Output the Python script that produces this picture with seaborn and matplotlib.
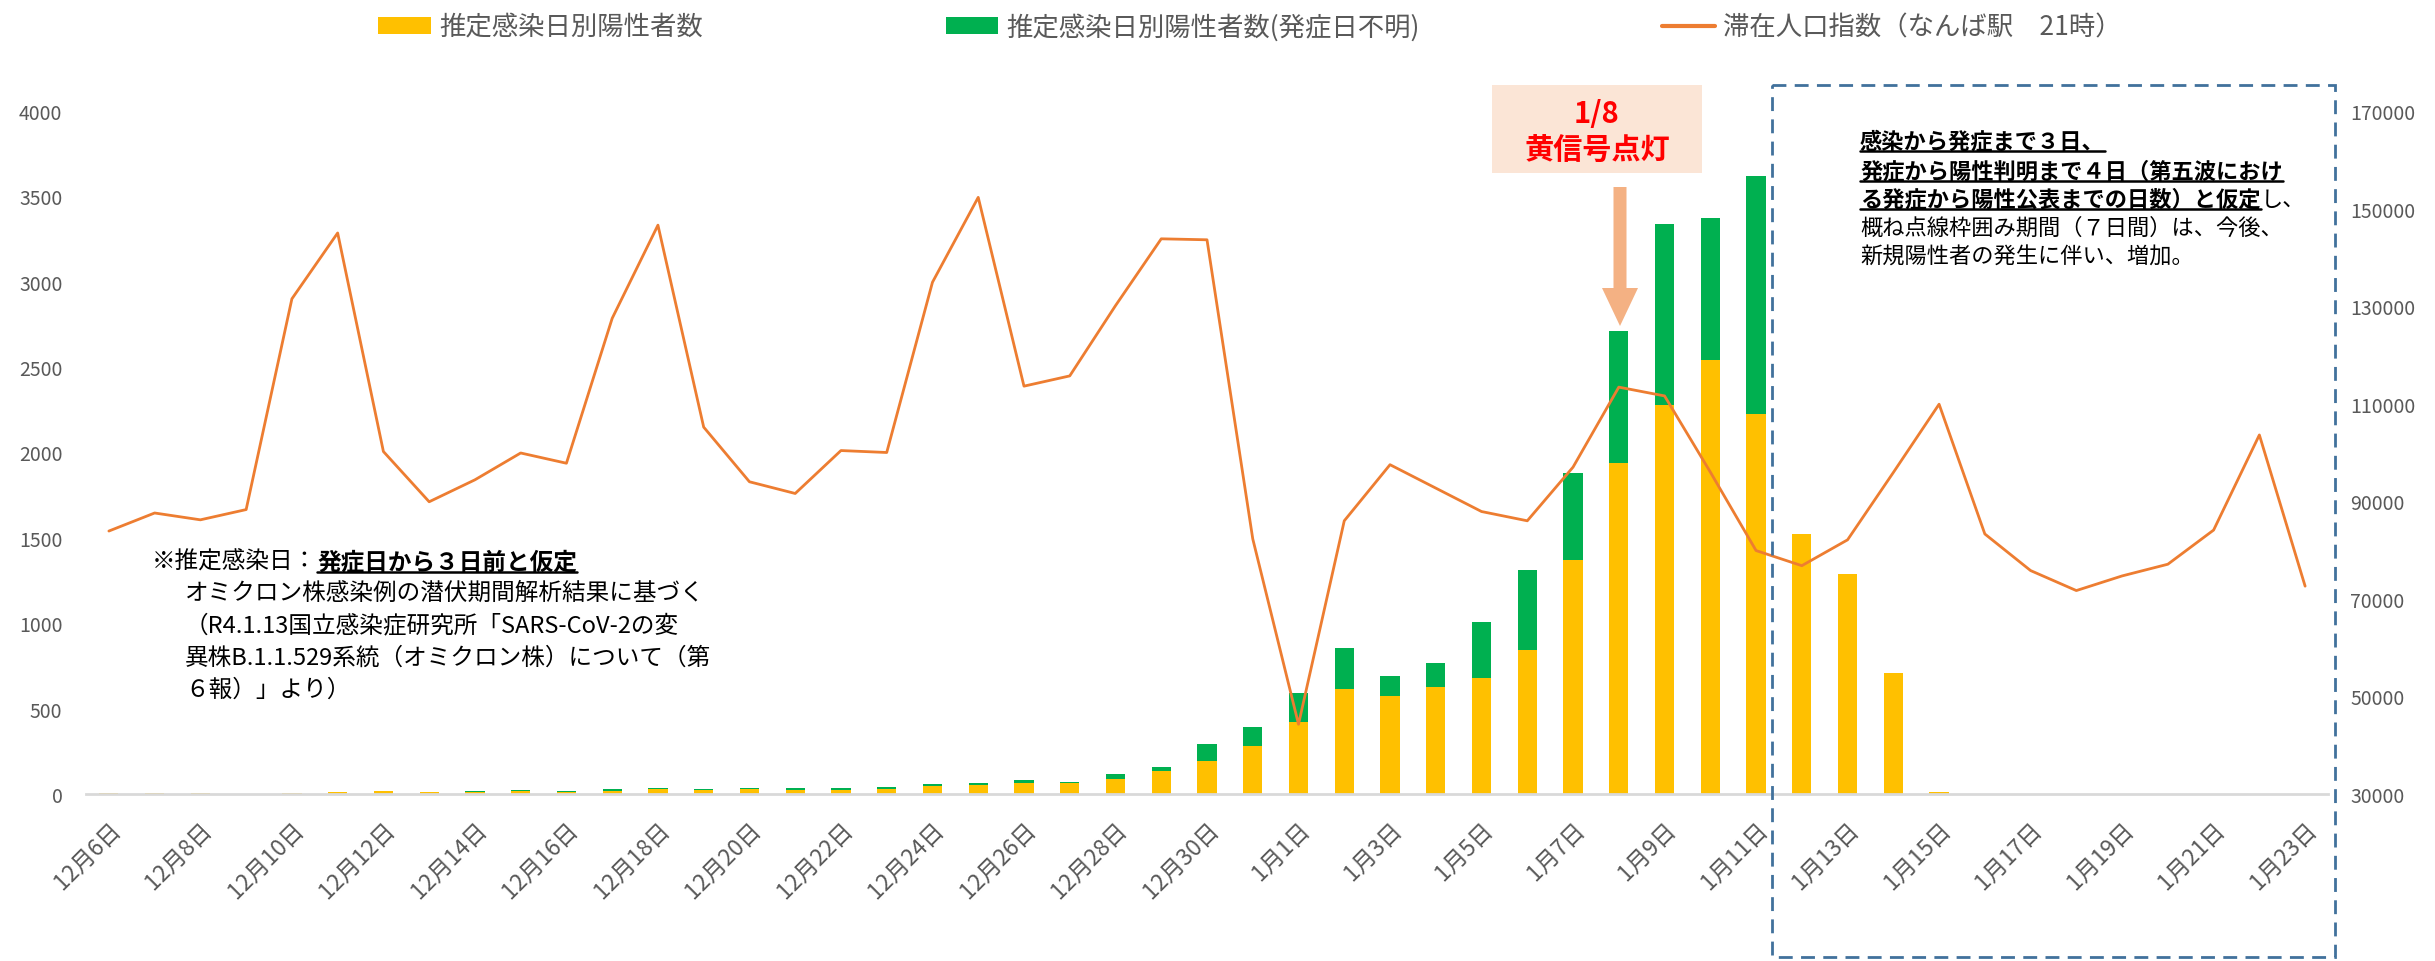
import numpy as np
import pandas as pd
import matplotlib
matplotlib.use("Agg")
import matplotlib.pyplot as plt
import seaborn as sns
from matplotlib.patches import Rectangle, FancyArrow, Patch
from matplotlib.lines import Line2D
from matplotlib.transforms import Affine2D, IdentityTransform

# データ
dates = [f"12月{d}日" for d in range(6, 32)] + [f"1月{d}日" for d in range(1, 24)]

# 推定感染日別陽性者数
known = [5, 3, 3, 0, 5, 10, 18, 12, 10, 17, 10, 18, 30, 22, 30, 22, 25, 30, 47, 55, 66, 62, 88, 137, 193, 279,
         424, 615, 576, 625, 678, 846, 1371, 1941, 2281, 2539, 2227, 1520, 1287, 709, 10,
         0, 0, 0, 0, 0, 0, 0, 0]
# 推定感染日別陽性者数(発症日不明)
unknown = [0, 0, 0, 0, 0, 0, 0, 0, 8, 6, 8, 11, 3, 7, 3, 13, 10, 13, 12, 11, 16, 6, 29, 23, 102, 115,
           166, 238, 113, 143, 330, 463, 510, 772, 1057, 834, 1392, 0, 0, 0, 0,
           0, 0, 0, 0, 0, 0, 0, 0]
# 滞在人口指数（なんば駅 21時）
population = [83900, 87600, 86200, 88300, 131500, 145000, 100200, 89900, 94400, 99900, 97800, 127500,
              146600, 105200, 94000, 91600, 100400, 100000, 134900, 152300, 113600, 115700, 130100,
              143800, 143600, 82300,
              44300, 86000, 97500, 92700, 87900, 86000, 97000, 113400, 111600, 96000, 79900, 76800,
              82100, 95900, 109900, 83300, 75800, 71700, 74700, 77100, 84100, 103600, 72600]

df = pd.DataFrame({"date": dates, "known": known, "unknown": unknown, "pop": population})
df["total"] = df["known"] + df["unknown"]
df["pos"] = np.arange(len(df))

YELLOW = "#FFC000"
GREEN = "#00B050"
ORANGE = "#ED7D31"
GRAY = "#595959"

sns.set_theme(style="white")
plt.rcParams["font.family"] = ["Noto Sans CJK JP", "DejaVu Sans"]

W, H, DPI = 2435, 962, 100
fig = plt.figure(figsize=(W / DPI, H / DPI), dpi=DPI)
# ピクセル座標 (左上原点)
PX = Affine2D().scale(1, -1).translate(0, H).scale(1 / DPI) + fig.dpi_scale_trans

ax = fig.add_axes([86 / W, 1 - 795 / H, (2328 - 86) / W, (795 - 112) / H])

sns.barplot(data=df, x="date", y="total", color=GREEN, width=0.42, linewidth=0, saturation=1, ax=ax)
sns.barplot(data=df, x="date", y="known", color=YELLOW, width=0.42, linewidth=0, saturation=1, ax=ax)

ax.set_ylim(0, 4000)
ax.set_yticks(range(0, 4001, 500))
ax.set_xlim(-0.5, len(df) - 0.5)
ax.set_xticks(range(0, len(df), 2))
ax.set_xticklabels(dates[::2], rotation=45, ha="right", va="top", rotation_mode="anchor")
ax.set_xlabel("")
ax.set_ylabel("")
ax.tick_params(axis="y", length=0, pad=17, labelsize=14, labelcolor=GRAY)
ax.tick_params(axis="x", length=0, pad=17, labelsize=16.5, labelcolor=GRAY)
for s in ["top", "left", "right"]:
    ax.spines[s].set_visible(False)
ax.spines["bottom"].set_color("#D9D9D9")
ax.spines["bottom"].set_linewidth(2)

ax2 = ax.twinx()
sns.lineplot(data=df, x="pos", y="pop", color=ORANGE, linewidth=2, ax=ax2)
ax2.set_ylim(30000, 170000)
ax2.set_yticks(range(30000, 170001, 20000))
ax2.set_xlim(-0.5, len(df) - 0.5)
ax2.set_ylabel("")
ax2.set_xlabel("")
ax2.tick_params(axis="y", length=0, pad=16, labelsize=14, labelcolor=GRAY)
for s in ax2.spines.values():
    s.set_visible(False)
ax2.grid(False)
ax.grid(False)

# 凡例
handles = [Patch(facecolor=YELLOW, edgecolor="none"),
           Patch(facecolor=GREEN, edgecolor="none"),
           Line2D([0], [0], color=ORANGE, lw=3)]
labels = ["推定感染日別陽性者数", "推定感染日別陽性者数(発症日不明)", "滞在人口指数（なんば駅　21時）"]
leg = fig.legend(handles, labels, loc="center", bbox_to_anchor=(1250 / W, 1 - 28 / H), ncol=3,
                 frameon=False, fontsize=19, columnspacing=9.2, handlelength=2.0,
                 handleheight=0.65, handletextpad=0.3)
for t in leg.get_texts():
    t.set_color(GRAY)

# 1/8 黄信号点灯
fig.add_artist(Rectangle((1492, 86), 210, 88, transform=PX, facecolor="#FBE5D6", edgecolor="none"))
fig.text(1597, 114, "1/8", transform=PX, ha="center", va="center", color="red", fontsize=21, fontweight="bold")
fig.text(1597, 150, "黄信号点灯", transform=PX, ha="center", va="center", color="red", fontsize=21, fontweight="bold")
fig.add_artist(FancyArrow(1620, 188, 0, 139, width=13, head_width=36, head_length=38,
                          length_includes_head=True, transform=PX, color="#F4B183", lw=0))

# 点線枠
fig.add_artist(Rectangle((1772, 86), 563, 872, transform=PX, fill=False, edgecolor="#41719C",
                         linestyle=(0, (5, 3)), linewidth=2))

fig.canvas.draw()
renderer = fig.canvas.get_renderer()


def put_line(x, y, parts, size):
    cx = x
    for s, bold, ul in parts:
        t = fig.text(cx, y, s, transform=PX, fontsize=size, ha="left", va="center", color="black",
                     fontweight="bold" if bold else "normal")
        bb = t.get_window_extent(renderer)
        if ul:
            yb = bb.y0 + 1
            fig.add_artist(Line2D([bb.x0, bb.x1], [yb, yb], transform=IdentityTransform(),
                                  color="black", lw=1.8))
        cx += bb.width


# 注記 (左)
put_line(152, 562, [("※推定感染日：", False, False), ("発症日から３日前と仮定", True, True)], 17)
put_line(185, 593, [("オミクロン株感染例の潜伏期間解析結果に基づく", False, False)], 17)
put_line(185, 626, [("（R4.1.13国立感染症研究所「SARS-CoV-2の変", False, False)], 17)
put_line(185, 658, [("異株B.1.1.529系統（オミクロン株）について（第", False, False)], 17)
put_line(185, 690, [("６報）」より）", False, False)], 17)

# 注記 (右)
put_line(1860, 142, [("感染から発症まで３日、", True, True)], 16)
put_line(1860, 172, [("発症から陽性判明まで４日（第五波におけ", True, True)], 16)
put_line(1860, 200, [("る発症から陽性公表までの日数）と仮定", True, True), ("し、", False, False)], 16)
put_line(1860, 228, [("概ね点線枠囲み期間（７日間）は、今後、", False, False)], 16)
put_line(1860, 257, [("新規陽性者の発生に伴い、増加。", False, False)], 16)

fig.savefig("out.png", dpi=DPI)
plt.close(fig)
